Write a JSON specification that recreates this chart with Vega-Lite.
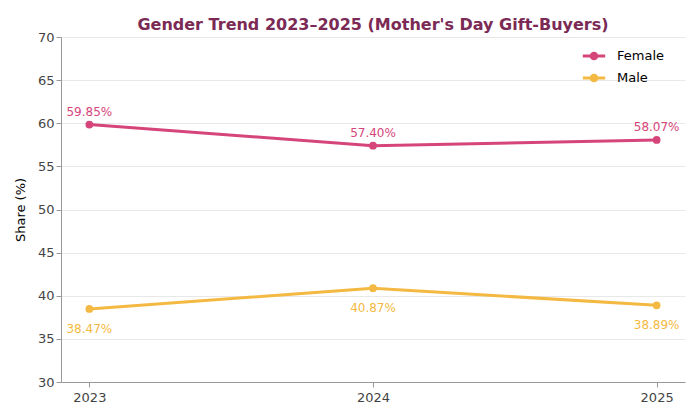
{
  "$schema": "https://vega.github.io/schema/vega-lite/v6.json",
  "width": 700,
  "height": 420,
  "autosize": {"type": "fit", "contains": "padding"},
  "padding": {"left": 14, "right": 15, "top": 17, "bottom": 16},
  "title": {
    "text": "Gender Trend 2023–2025 (Mother's Day Gift-Buyers)",
    "font": "DejaVu Sans",
    "fontSize": 16,
    "fontWeight": "bold",
    "color": "#7b2a55",
    "offset": -2
  },
  "config": {
    "font": "DejaVu Sans",
    "view": {"stroke": null},
    "axis": {
      "labelFont": "DejaVu Sans",
      "labelFontSize": 13,
      "labelColor": "#444444",
      "titleFont": "DejaVu Sans",
      "titleFontSize": 13,
      "titleFontWeight": "normal",
      "titleColor": "#000000",
      "domainColor": "#999999",
      "tickColor": "#999999",
      "gridColor": "#e8e8e8"
    }
  },
  "data": {
    "values": [
      {"year": 2023, "gender": "Female", "share": 59.85},
      {"year": 2024, "gender": "Female", "share": 57.40},
      {"year": 2025, "gender": "Female", "share": 58.07},
      {"year": 2023, "gender": "Male", "share": 38.47},
      {"year": 2024, "gender": "Male", "share": 40.87},
      {"year": 2025, "gender": "Male", "share": 38.89}
    ]
  },
  "transform": [
    {"calculate": "format(datum.share, '.2f') + '%'", "as": "label"}
  ],
  "encoding": {
    "x": {
      "field": "year",
      "type": "quantitative",
      "scale": {"domain": [2022.9, 2025.1], "nice": false},
      "axis": {"values": [2023, 2024, 2025], "format": "d", "title": null, "grid": false, "labelPadding": 4}
    },
    "y": {
      "field": "share",
      "type": "quantitative",
      "scale": {"domain": [30, 70], "nice": false},
      "axis": {"values": [30, 35, 40, 45, 50, 55, 60, 65, 70], "title": "Share (%)", "titlePadding": 10, "domain": true}
    },
    "color": {
      "field": "gender",
      "type": "nominal",
      "scale": {"domain": ["Female", "Male"], "range": ["#d6457a", "#f4b942"]},
      "legend": {
        "title": null,
        "orient": "none",
        "legendX": 520,
        "legendY": 6,
        "labelFont": "DejaVu Sans",
        "labelFontSize": 13,
        "labelColor": "#000000",
        "labelOffset": 10,
        "symbolType": "M -1 0 L 1 0 M -0.25 0 A 0.25 0.25 0 1 1 0.25 0 A 0.25 0.25 0 1 1 -0.25 0 Z",
        "symbolStrokeWidth": 3,
        "symbolSize": 500,
        "rowPadding": -1,
        "encode": {
          "symbols": {"update": {"fill": {"field": "value", "scale": "color"}, "fillOpacity": {"value": 1}}}
        }
      }
    }
  },
  "layer": [
    {
      "mark": {"type": "line", "strokeWidth": 3, "point": {"size": 60, "filled": true, "opacity": 1}}
    },
    {
      "transform": [{"filter": "datum.gender === 'Female'"}],
      "mark": {"type": "text", "dy": -13, "fontSize": 12, "font": "DejaVu Sans"},
      "encoding": {"text": {"field": "label"}}
    },
    {
      "transform": [{"filter": "datum.gender === 'Male'"}],
      "mark": {"type": "text", "dy": 20, "fontSize": 12, "font": "DejaVu Sans"},
      "encoding": {"text": {"field": "label"}}
    }
  ]
}
